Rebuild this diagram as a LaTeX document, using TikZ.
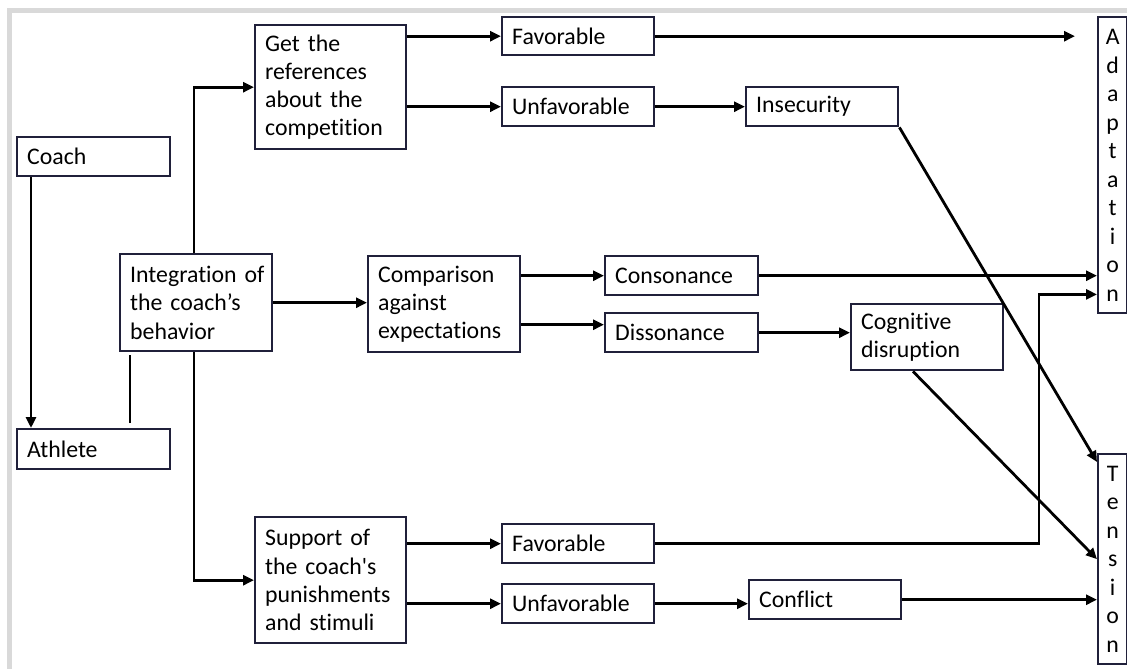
\documentclass[tikz,border=0pt]{standalone}
\usepackage{fontspec}
\setmainfont{Carlito}[Ligatures={TeXOff,CommonOff}]
\usetikzlibrary{arrows.meta}
\definecolor{boxc}{RGB}{32,32,58}
\definecolor{framec}{RGB}{217,217,217}
\begin{document}
\begin{tikzpicture}[x=1pt,y=-1pt,
  box/.style={draw=boxc, line width=2.4pt, anchor=north west, inner xsep=10pt, inner ysep=0pt,
    align=left, font=\fontsize{23.8}{28.3}\selectfont},
  vbox/.style={draw=boxc, line width=2.4pt, anchor=north west, inner sep=0pt,
    text width=29pt, align=center, font=\fontsize{23.8}{28.5}\selectfont},
  arr/.style={draw=black, line width=2.8pt, -{Triangle[length=11pt,width=10pt]}},
  ln/.style={draw=black, line width=2.8pt}]
\useasboundingbox (0,0) rectangle (1127,669);
\fill[framec] (7,8) rectangle (1127,13);
\fill[framec] (7,8) rectangle (12,669);

% nodes
\node[box, text width=133pt, minimum height=39pt] (coach) at (16,136) {Coach};
\node[box, text width=133pt, minimum height=40pt] (athlete) at (16,428) {Athlete};
\node[box, text width=132pt, minimum height=97pt] (integ) at (119,253) {\mbox{Integration of}\\\mbox{the coach’s}\\behavior};
\node[box, text width=131pt, minimum height=124pt] (refs) at (254,24) {Get the\\\mbox{references}\\\mbox{about the}\\\mbox{competition}};
\node[box, text width=131pt, minimum height=126pt] (support) at (254,516) {\mbox{Support of}\\\mbox{the coach's}\\\mbox{punishments}\\\mbox{and stimuli}};
\node[box, text width=132pt, minimum height=38pt] (fav1) at (501,16) {Favorable};
\node[box, text width=132pt, minimum height=39pt] (unf1) at (501,86) {Unfavorable};
\node[box, text width=132pt, minimum height=39pt] (insec) at (745,86) {Insecurity};
\node[box, text width=132pt, minimum height=96pt] (comp) at (367,255) {\mbox{Comparison}\\against\\\mbox{expectations}};
\node[box, text width=133pt, minimum height=39pt] (cons) at (604,255) {Consonance};
\node[box, text width=133pt, minimum height=39pt] (diss) at (604,312) {Dissonance};
\node[box, text width=132pt, minimum height=66pt] (cog) at (850,303) {Cognitive\\\mbox{disruption}};
\node[box, text width=132pt, minimum height=39pt] (fav2) at (501,523) {Favorable};
\node[box, text width=132pt, minimum height=39pt] (unf2) at (501,583) {Unfavorable};
\node[box, text width=132pt, minimum height=39pt] (confl) at (748,579) {Conflict};
\node[vbox, minimum height=296pt] (adapt) at (1097,16) {A\\d\\a\\p\\t\\a\\t\\i\\o\\n};
\node[vbox, minimum height=210pt] (tens) at (1097,453) {T\\e\\n\\s\\i\\o\\n};

% helper coordinates
\coordinate (c1) at ([xshift=15pt]coach.south west);
\coordinate (a1) at ([xshift=114pt]athlete.north west);
\coordinate (i1) at ([xshift=75pt]integ.north west);
\coordinate (i2) at ([xshift=75pt]integ.south west);
\coordinate (d1) at ([yshift=8pt]diss.west);
\coordinate (t1) at ([yshift=-9pt]tens.north west);
\coordinate (g1) at ([xshift=63pt]cog.south west);
\coordinate (b1) at ([yshift=20pt]adapt.south west);
\coordinate (b0) at ([xshift=-58pt]b1);

% connectors
\draw[arr] (c1) -- (c1 |- athlete.north);
\draw[ln, shorten <=5pt, shorten >=3pt] (a1) -- (a1 |- integ.south);
\draw[arr] (i1) |- (refs.west);
\draw[arr] (i2) |- (support.west);
\draw[arr] (integ.east) -- (integ.east -| comp.west);
\draw[arr] (refs.east |- fav1.west) -- (fav1.west);
\draw[arr] (refs.east |- unf1.west) -- (unf1.west);
\draw[arr] (unf1.east) -- (insec.west);
\draw[arr, shorten >=22pt] (fav1.east) -- (fav1.east -| adapt.west);
\draw[arr] (comp.east |- cons.west) -- (cons.west);
\draw[arr] (d1 -| comp.east) -- (d1);
\draw[arr] (cons.east) -- (cons.east -| adapt.west);
\draw[arr] (diss.east) -- (diss.east -| cog.west);
\draw[arr] (insec.south east) -- (t1);
\draw[arr] (g1) -- (tens.west);
\draw[arr] (fav2.east) -| (b0) -- (b1);
\draw[arr] (confl.east) -- (confl.east -| tens.west);
\draw[arr] (support.east |- fav2.west) -- (fav2.west);
\draw[arr] (support.east |- unf2.west) -- (unf2.west);
\draw[arr] (unf2.east) -- (unf2.east -| confl.west);
\end{tikzpicture}
\end{document}
